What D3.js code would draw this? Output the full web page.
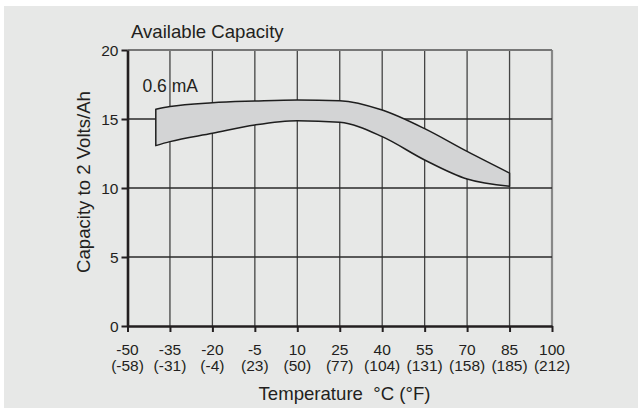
<!DOCTYPE html>
<html>
<head>
<meta charset="utf-8">
<script src="https://cdn.jsdelivr.net/npm/d3@7"></script>
<style>
  body { margin: 0; background: #fff; }
  svg { display: block; font-family: "Liberation Sans", Arial, sans-serif; }
</style>
</head>
<body>
<svg id="chart"></svg>
<script>
// Chart data
const temps = [-40, -35, -20, -5, 10, 25, 40, 55, 70, 85];
const upper = [15.7, 15.9, 16.18, 16.3, 16.38, 16.33, 15.65, 14.3, 12.65, 11.08];
const lower = [13.07, 13.36, 13.96, 14.57, 14.88, 14.76, 13.72, 12.03, 10.65, 10.12];

// Tick labels
const xTicks = [-50, -35, -20, -5, 10, 25, 40, 55, 70, 85, 100];
const fahrLabels = ['(-58)', '(-31)', '(-4)', '(23)', '(50)', '(77)', '(104)', '(131)', '(158)', '(185)', '(212)'];
const yTicks = [0, 5, 10, 15, 20];

const width = 638;
const height = 409;
const ink = '#231f20';

const svg = d3.select('#chart')
  .attr('width', width)
  .attr('height', height);

// gray panel
svg.append('rect')
  .attr('x', 4).attr('y', 6)
  .attr('width', width - 4).attr('height', 402)
  .attr('fill', '#e7e8e7');

const x = d3.scaleLinear().domain([-50, 100]).range([127.5, 552]);
const y = d3.scaleLinear().domain([0, 20]).range([326, 50]);

// grid lines
svg.append('g')
  .selectAll('line')
  .data(xTicks.slice(1))
  .join('line')
  .attr('x1', d => x(d)).attr('x2', d => x(d))
  .attr('y1', y(0)).attr('y2', y(20))
  .attr('stroke', d => d === 100 ? '#888' : '#444')
  .attr('stroke-width', d => d === 100 ? 2.2 : 1.3);

svg.append('g')
  .selectAll('line')
  .data(yTicks.slice(1))
  .join('line')
  .attr('x1', x(-50)).attr('x2', x(100))
  .attr('y1', d => y(d)).attr('y2', d => y(d))
  .attr('stroke', d => d === 20 ? '#777' : '#2a2a2a')
  .attr('stroke-width', d => d === 20 ? 2 : 1.3);

// capacity band
const band = d3.area()
  .x((d, i) => x(temps[i]))
  .y0((d, i) => y(lower[i]))
  .y1((d, i) => y(upper[i]))
  .curve(d3.curveMonotoneX);

svg.append('path')
  .datum(temps)
  .attr('d', band)
  .attr('fill', '#d3d4d5')
  .attr('stroke', '#1e1e1e')
  .attr('stroke-width', 1.5)
  .attr('stroke-linejoin', 'round');

// axes
const xAxis = svg.append('g')
  .attr('transform', `translate(0,${y(0)})`)
  .call(d3.axisBottom(x).tickValues(xTicks).tickSize(6).tickSizeOuter(0).tickFormat(''));

const yAxis = svg.append('g')
  .attr('transform', `translate(${x(-50)},0)`)
  .call(d3.axisLeft(y).tickValues(yTicks).tickSize(6).tickSizeOuter(0).tickFormat(d => d));

[xAxis, yAxis].forEach(a => {
  a.select('.domain').attr('stroke', ink).attr('stroke-width', 2.6);
  a.selectAll('.tick line').attr('stroke', ink).attr('stroke-width', 2);
});

yAxis.selectAll('.tick text')
  .attr('x', -9)
  .attr('dy', '0.35em')
  .attr('fill', ink)
  .attr('font-size', 15.5)
  .attr('font-family', '"Liberation Sans", Arial, sans-serif');

const xLab = svg.append('g')
  .attr('font-size', 15.5)
  .attr('fill', ink)
  .attr('text-anchor', 'middle');

xLab.selectAll('text.c')
  .data(xTicks)
  .join('text')
  .attr('class', 'c')
  .attr('x', d => x(d))
  .attr('y', 355)
  .text(d => d);

xLab.selectAll('text.f')
  .data(xTicks)
  .join('text')
  .attr('class', 'f')
  .attr('x', d => x(d))
  .attr('y', 371)
  .text((d, i) => fahrLabels[i]);

// titles
svg.append('text')
  .attr('x', 131).attr('y', 38)
  .attr('font-size', 18.6)
  .attr('fill', ink)
  .text('Available Capacity');

svg.append('text')
  .attr('x', 142.5).attr('y', 91.5)
  .attr('font-size', 17.5)
  .attr('fill', ink)
  .text('0.6 mA');

svg.append('text')
  .attr('transform', 'translate(90,182) rotate(-90)')
  .attr('text-anchor', 'middle')
  .attr('font-size', 18.6)
  .attr('fill', ink)
  .text('Capacity to 2 Volts/Ah');

svg.append('text')
  .attr('x', 344.5).attr('y', 400)
  .attr('text-anchor', 'middle')
  .attr('font-size', 18.6)
  .attr('fill', ink)
  .style('white-space', 'pre')
  .text('Temperature  °C (°F)');
</script>
</body>
</html>
